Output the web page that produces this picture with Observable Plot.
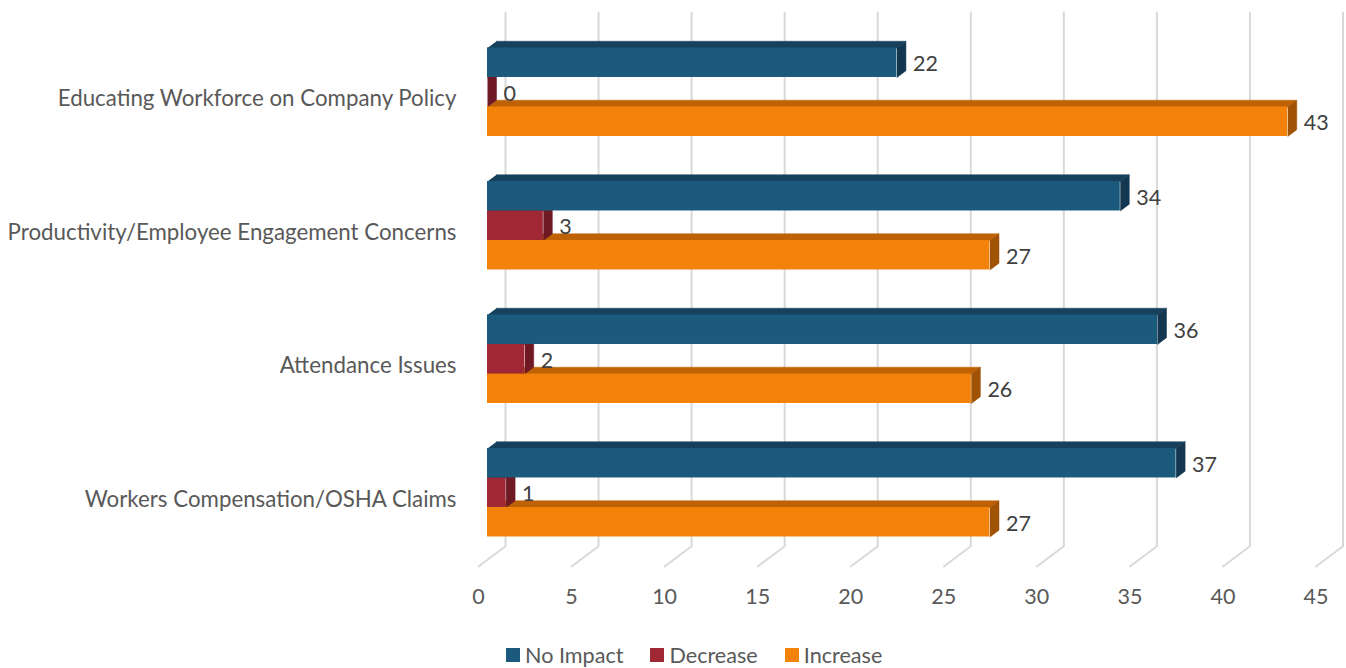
<!DOCTYPE html>
<html><head><meta charset="utf-8">
<script src="https://cdn.jsdelivr.net/npm/d3@7"></script>
<script src="https://cdn.jsdelivr.net/npm/@observablehq/plot@0.6"></script>
<style>
html,body{margin:0;padding:0;background:#fff;overflow:hidden}
#wrap{position:relative;width:1346px;height:668px}
#wrap svg{font-variant-ligatures:none}
#legend{position:absolute;left:506px;top:641px;height:28px;display:flex;align-items:center;font-family:Lato,sans-serif;font-size:21.6px;color:#595959;white-space:nowrap;font-variant-ligatures:none}
.item{display:flex;align-items:center;margin-right:27px}
.sw{width:14px;height:14px;margin-right:5px}
</style></head><body><div id="wrap"></div>
<script>
// ---- data ----
const categories = [
  "Educating Workforce on Company Policy",
  "Productivity/Employee Engagement Concerns",
  "Attendance Issues",
  "Workers Compensation/OSHA Claims"
];
const seriesNames = ["No Impact", "Decrease", "Increase"];
const noImpact = [22, 34, 36, 37];
const decrease = [0, 3, 2, 1];
const increase = [43, 27, 26, 27];
const xTicks = [0, 5, 10, 15, 20, 25, 30, 35, 40, 45];

// ---- styles ----
const frontColors = ["#1c5a7d", "#a02834", "#f2820a"];
const topColors   = ["#17405c", "#7a1c26", "#be6205"];
const sideColors  = ["#133750", "#6e1923", "#a05205"];

const W = 1346, H = 636, ML = 478, MR = 30.5, MT = 0, MB = 70;
const xDomain = [0, 45];
const yDomain = [-0.738, 3.502];
const kx = (W - ML - MR) / (xDomain[1] - xDomain[0]);   // px per value unit
const ky = (H - MT - MB) / (yDomain[1] - yDomain[0]);   // px per group unit
const depthX = 27, depthY = 20.3;                        // 3D depth in px
const ox1 = (depthX / 3) / kx, oy1 = -(depthY / 3) / ky; // bar front offset
const ox2 = (2 * depthX / 3) / kx, oy2 = -(2 * depthY / 3) / ky; // bar back
const owx = depthX / kx, owy = -depthY / ky;             // back wall offset
const b = 29.5 / ky;                                     // bar thickness (group units)
const wallTop = (12 - 98.5) / ky;

const values = [noImpact, decrease, increase];
const bars = [];
categories.forEach((c, i) => {
  seriesNames.forEach((s, j) => {
    const t = i - 1.5 * b + j * b, u = t + b;
    bars.push({id: `${i}-${j}`, cat: c, series: j, v: values[j][i], t, u});
  });
});

function topPoly(d) {
  return [
    {id: d.id, x: ox1, y: d.t + oy1},
    {id: d.id, x: d.v + ox1, y: d.t + oy1},
    {id: d.id, x: d.v + ox2, y: d.t + oy2},
    {id: d.id, x: ox2, y: d.t + oy2}
  ];
}
function sidePoly(d) {
  return [
    {id: d.id, x: d.v + ox1, y: d.t + oy1},
    {id: d.id, x: d.v + ox2, y: d.t + oy2},
    {id: d.id, x: d.v + ox2, y: d.u + oy2},
    {id: d.id, x: d.v + ox1, y: d.u + oy1}
  ];
}

const grid = xTicks.flatMap(v => [
  {tick: v, x: v + owx, y: wallTop},
  {tick: v, x: v + owx, y: yDomain[1] + owy},
  {tick: v, x: v, y: yDomain[1]}
]);

const marks = [];
marks.push(Plot.line(grid, {x: "x", y: "y", z: "tick", stroke: "#d9d9d9", strokeWidth: 2, strokeLinejoin: "miter"}));
for (let j = 2; j >= 0; j--) {
  const sb = bars.filter(d => d.series === j);
  marks.push(Plot.line(sb.flatMap(topPoly), {x: "x", y: "y", z: "id", fill: topColors[j], stroke: topColors[j], strokeWidth: 0.5}));
}
for (let j = 2; j >= 0; j--) {
  const sb = bars.filter(d => d.series === j);
  marks.push(Plot.line(sb.flatMap(sidePoly), {x: "x", y: "y", z: "id", fill: sideColors[j], stroke: sideColors[j], strokeWidth: 0.5}));
}
for (let j = 2; j >= 0; j--) {
  const sb = bars.filter(d => d.series === j);
  marks.push(Plot.rect(sb, {
    x1: () => ox1, x2: d => d.v + ox1,
    y1: d => d.t + oy1, y2: d => d.u + oy1,
    fill: frontColors[j], inset: 0
  }));
}
marks.push(Plot.text(bars, {
  x: d => d.v + ox2, y: d => (d.t + d.u) / 2 + oy1,
  text: d => String(d.v), textAnchor: "start", dx: 7, dy: 1.5,
  fill: "#404040", fontSize: 21.5
}));
marks.push(Plot.axisX(xTicks, {tickSize: 0, tickPadding: 22.5, fontSize: 21.5, fill: "#595959", label: null}));
marks.push(Plot.axisY([0, 1, 2, 3], {tickSize: 0, tickPadding: 22, fontSize: 22.3, fill: "#595959", label: null,
  tickFormat: i => categories[i]}));

const chart = Plot.plot({
  width: W, height: H,
  marginLeft: ML, marginRight: MR, marginTop: MT, marginBottom: MB,
  x: {domain: xDomain, label: null},
  y: {domain: yDomain, reverse: true, label: null},
  style: {fontFamily: "Lato, sans-serif", fontSize: "21px", background: "white", color: "#595959"},
  marks
});

const wrap = document.getElementById("wrap");
wrap.appendChild(chart);
const legend = document.createElement("div");
legend.id = "legend";
seriesNames.forEach((s, j) => {
  const it = document.createElement("div");
  it.className = "item";
  const sw = document.createElement("div");
  sw.className = "sw";
  sw.style.background = frontColors[j];
  const tx = document.createElement("span");
  tx.textContent = s;
  it.appendChild(sw); it.appendChild(tx);
  legend.appendChild(it);
});
wrap.appendChild(legend);
</script></body></html>
